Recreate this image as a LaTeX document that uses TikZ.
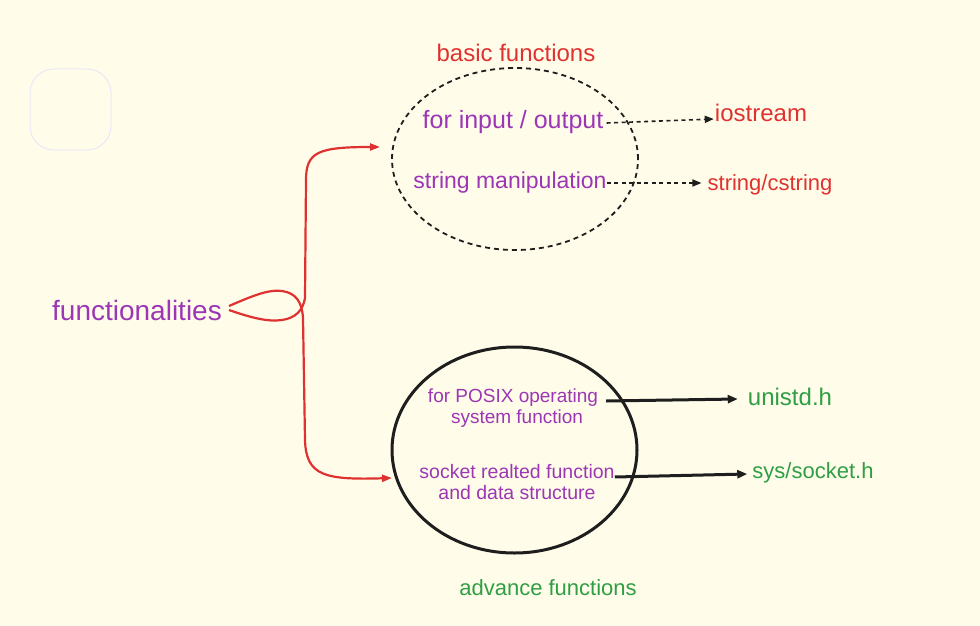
\documentclass[tikz,border=0pt]{standalone}
\usepackage{fontspec}
\setmainfont{Liberation Sans}
\usetikzlibrary{arrows.meta,shapes.geometric}
\definecolor{bg}{HTML}{FFFDE9}
\definecolor{vio}{HTML}{9C36B5}
\definecolor{rd}{HTML}{E03131}
\definecolor{gr}{HTML}{2F9E44}
\definecolor{ink}{HTML}{1E1E1E}
\definecolor{faint}{HTML}{E9E8F8}
\tikzset{
  lbl/.style={inner sep=0pt, anchor=center},
  redarrow/.style={draw=rd, line width=2.2pt, -{Triangle[length=10pt,width=7pt]}},
  dasharrow/.style={draw=ink, line width=1.6pt, dash pattern=on 4pt off 3.5pt, -{Triangle[length=9pt,width=7pt]}},
  solidarrow/.style={draw=ink, line width=3pt, -{Triangle[length=10pt,width=8pt]}},
}
\begin{document}
\begin{tikzpicture}[x=1pt,y=-1pt]
\fill[bg] (0,0) rectangle (980,626);
\useasboundingbox (0,0) rectangle (980,626);

% faint rounded square
\draw[faint, line width=1pt, rounded corners=24pt] (30,69) rectangle (111,150);

% circles
\node[ellipse, draw=ink, line width=1.8pt, dash pattern=on 5pt off 4pt, minimum width=246pt, minimum height=182pt, inner sep=0pt] (basic) at (515,159) {};
\node[ellipse, draw=ink, line width=3pt, minimum width=245pt, minimum height=206pt, inner sep=0pt] (adv) at (514.5,450) {};

% texts
\node[lbl, text=rd, font=\fontsize{24}{28}\selectfont] (tbasic) at (516,53) {basic functions};
\node[lbl, text=vio, font=\fontsize{25}{30}\selectfont] (io) at (513,122) {for input / output};
\node[lbl, text=vio, font=\fontsize{23}{27}\selectfont] (strm) at (510,183) {string manipulation};
\node[lbl, text=rd, font=\fontsize{24}{28}\selectfont] (iostream) at (761,113) {iostream};
\node[lbl, text=rd, font=\fontsize{22}{26}\selectfont] (cstring) at (770,185) {string/cstring};
\node[lbl, text=vio, font=\fontsize{28}{32}\selectfont] (func) at (137,310) {functionalities};
\node[lbl, text=vio, font=\fontsize{19}{22}\selectfont] (posix1) at (513,398) {for POSIX operating};
\node[lbl, text=vio, font=\fontsize{19}{22}\selectfont] (posix2) at (517,419) {system function};
\node[lbl, text=vio, font=\fontsize{19.5}{22}\selectfont] (sock1) at (517,472) {socket realted function};
\node[lbl, text=vio, font=\fontsize{19.5}{22}\selectfont] (sock2) at (517,493) {and data structure};
\node[lbl, text=gr, font=\fontsize{24}{28}\selectfont] (unistd) at (790,397) {unistd.h};
\node[lbl, text=gr, font=\fontsize{22}{26}\selectfont] (socket) at (813,473) {sys/socket.h};
\node[lbl, text=gr, font=\fontsize{22}{26}\selectfont] (tadv) at (548,588) {advance functions};

% coordinates for connector ends
\coordinate (fs1) at (229,306);
\coordinate (fs2) at (229,310);
\coordinate (topend) at (380,147);
\coordinate (botend) at (392,478);

% red branching arrows
\draw[redarrow] (fs2) .. controls (252,318) and (268,322) .. (282,320)
  .. controls (296,318) and (303,310) .. (305,298)
  -- (306,180) .. controls (306,152) and (318,147) .. (topend);
\draw[redarrow] (fs1) .. controls (250,297) and (268,289) .. (282,291)
  .. controls (296,293) and (302,302) .. (303,318)
  -- (305,440) .. controls (306,476) and (325,480) .. (botend);

% dashed arrows
\draw[dasharrow] (io.east) ++(3,1) -- ([xshift=-1pt]iostream.west |- 0,119);
\draw[dasharrow] (strm.east) -- ([xshift=-6pt]cstring.west |- 0,183);

% solid arrows
\draw[solidarrow] (posix1.east) ++(8,3) -- ([xshift=-10pt]unistd.west |- 0,399);
\draw[solidarrow] (sock1.east) ++(0,5) -- ([xshift=-5pt]socket.west |- 0,474);
\end{tikzpicture}
\end{document}
